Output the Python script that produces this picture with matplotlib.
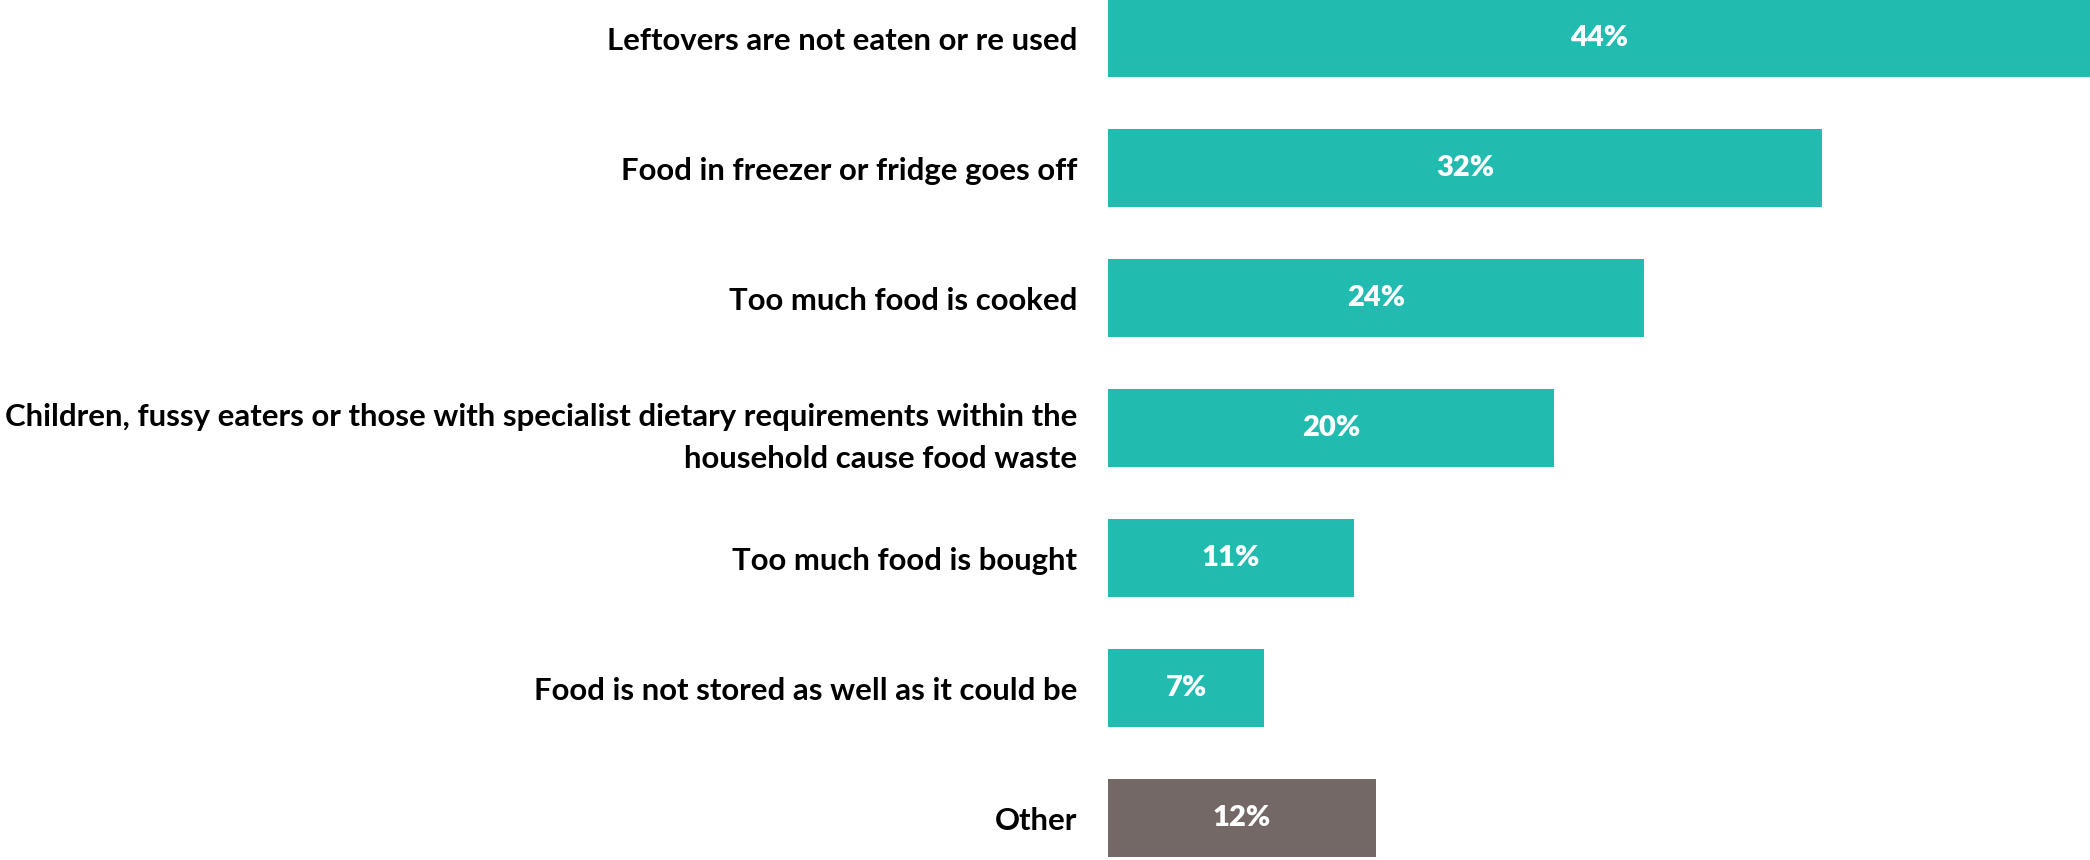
import matplotlib.pyplot as plt

# reasons for food waste, top to bottom
labels = [
    "Leftovers are not eaten or re used",
    "Food in freezer or fridge goes off",
    "Too much food is cooked",
    "Children, fussy eaters or those with specialist dietary requirements within the\nhousehold cause food waste",
    "Too much food is bought",
    "Food is not stored as well as it could be",
    "Other",
]
values = [44, 32, 24, 20, 11, 7, 12]
colors = ["#21BBB0"] * 6 + ["#736866"]

plt.rcParams['font.family'] = ['Lato', 'DejaVu Sans']

fig = plt.figure(figsize=(20.9, 8.6), dpi=100)
ax = fig.add_axes([1108 / 2090, 0, 982 / 2090, 1])

ypos = list(range(len(values)))
ax.barh(ypos, values, height=0.6, color=colors)
ax.set_xlim(0, 44)
ax.set_ylim(6.32, -0.296)

for y, v in zip(ypos, values):
    ax.text(v / 2, y, f"{v}%", ha="center", va="center",
            color="white", fontsize=21, fontweight="heavy")

ax.set_yticks(ypos)
ax.set_yticklabels(labels, fontsize=22.4, fontweight="bold", ha="right",
                   multialignment="right", linespacing=1.6)
ax.tick_params(axis="y", length=0, pad=22)
ax.set_xticks([])
for s in ax.spines.values():
    s.set_visible(False)

fig.savefig("out.png", dpi=100)
